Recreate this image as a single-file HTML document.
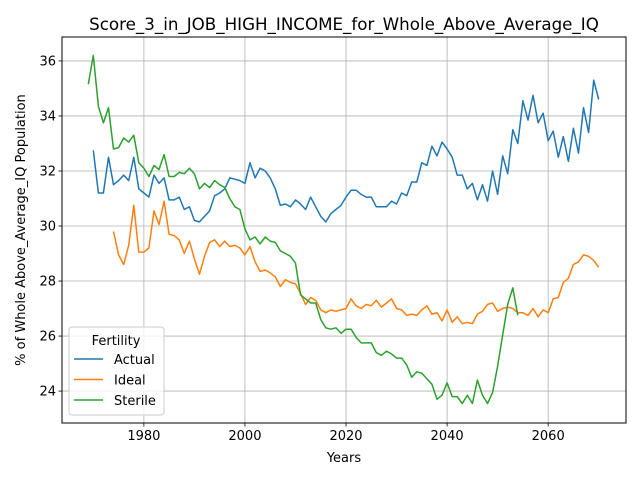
<!DOCTYPE html>
<html><head><meta charset="utf-8"><style>
body{margin:0;background:#fff;font-family:"Liberation Sans","DejaVu Sans",sans-serif}
svg text{font-family:"DejaVu Sans","Liberation Sans",sans-serif}
</style></head><body>
<svg id="chart" width="640" height="480" xmlns="http://www.w3.org/2000/svg">
<rect width="640" height="480" fill="#fff"/>
<g id="grid"></g>
<g id="series"></g>
<rect x="62" y="37" width="564" height="386" fill="none" stroke="#000" stroke-width="1"/>
<g id="ticks"></g>
<text x="344" y="30" font-size="16.7" text-anchor="middle">Score_3_in_JOB_HIGH_INCOME_for_Whole_Above_Average_IQ</text>
<text x="344" y="462" font-size="13" text-anchor="middle">Years</text>
<text transform="translate(25,230) rotate(-90)" font-size="13" text-anchor="middle">% of Whole Above_Average_IQ Population</text>
<g>
<rect x="69" y="327" width="95" height="88" rx="3" fill="#fff" fill-opacity="0.8" stroke="#ccc"/>
<text x="116" y="345" font-size="13" text-anchor="middle">Fertility</text>
<g id="legend-items"></g>
</g>
</svg>
<script>
const actualStart = 1970;
const actual = [32.75,31.2,31.2,32.5,31.5,31.65,31.85,31.65,32.5,31.35,31.2,31.05,31.85,31.55,31.75,30.95,30.95,31.05,30.6,30.7,30.2,30.15,30.35,30.55,31.1,31.2,31.35,31.75,31.7,31.65,31.55,32.3,31.75,32.1,32.0,31.75,31.35,30.75,30.8,30.7,30.95,30.8,30.6,31.05,30.7,30.35,30.15,30.45,30.6,30.75,31.05,31.3,31.3,31.15,31.05,31.05,30.7,30.7,30.7,30.9,30.8,31.2,31.1,31.6,31.6,32.3,32.2,32.9,32.55,33.05,32.8,32.5,31.85,31.85,31.35,31.55,30.95,31.5,30.9,32.0,31.15,32.55,31.9,33.5,33.0,34.55,33.85,34.75,33.75,34.1,33.1,33.45,32.5,33.25,32.35,33.55,32.65,34.3,33.4,35.3,34.6];
const idealStart = 1974;
const ideal = [29.8,28.95,28.6,29.3,30.75,29.05,29.05,29.2,30.55,30.05,30.9,29.7,29.65,29.5,29.0,29.45,28.8,28.25,28.9,29.4,29.5,29.25,29.45,29.25,29.3,29.2,28.95,29.25,28.7,28.35,28.4,28.3,28.15,27.8,28.05,27.95,27.9,27.55,27.15,27.4,27.3,26.95,26.85,26.95,26.9,26.95,27.0,27.35,27.1,27.0,27.15,27.1,27.3,27.05,27.2,27.35,27.0,26.95,26.75,26.8,26.75,26.95,27.1,26.8,26.85,26.55,26.95,26.5,26.7,26.45,26.5,26.45,26.8,26.9,27.15,27.2,26.9,27.0,27.05,27.0,26.85,26.85,26.75,27.0,26.7,26.95,26.85,27.35,27.4,27.95,28.1,28.6,28.7,28.95,28.9,28.75,28.5];
const sterileStart = 1969;
const sterile = [35.15,36.2,34.35,33.75,34.3,32.8,32.85,33.2,33.05,33.3,32.3,32.1,31.8,32.2,32.05,32.6,31.8,31.8,31.95,31.9,32.1,31.9,31.35,31.55,31.4,31.65,31.5,31.4,31.0,30.7,30.6,29.9,29.5,29.6,29.35,29.6,29.45,29.4,29.1,29.0,28.9,28.65,27.5,27.35,27.2,27.2,26.6,26.3,26.25,26.3,26.1,26.25,26.25,25.95,25.75,25.75,25.75,25.4,25.3,25.45,25.35,25.2,25.2,24.95,24.5,24.7,24.65,24.45,24.25,23.7,23.85,24.3,23.8,23.8,23.55,23.85,23.55,24.4,23.85,23.55,23.95,24.9,26.05,27.15,27.75,26.75];
const xTicks = [1980,2000,2020,2040,2060];
const yTicks = [24,26,28,30,32,34,36];
const seriesNames = ["Actual","Ideal","Sterile"];
const colors = ["#1f77b4","#ff7f0e","#2ca02c"];

const NS="http://www.w3.org/2000/svg";
const X0=62,X1=626,Y0=37,Y1=423;
const xMin=1963.8,xMax=2075.4,yMin=22.84,yMax=36.87;
const xs=v=>X0+(v-xMin)/(xMax-xMin)*(X1-X0);
const ys=v=>Y1-(v-yMin)/(yMax-yMin)*(Y1-Y0);
function mk(tag,attrs,parent){const e=document.createElementNS(NS,tag);for(const k in attrs)e.setAttribute(k,attrs[k]);parent.appendChild(e);return e;}
const grid=document.getElementById('grid'),ticks=document.getElementById('ticks'),ser=document.getElementById('series');
xTicks.forEach(t=>{const x=xs(t);
 const g=mk('line',{x1:x,x2:x,y1:Y0,y2:Y1,stroke:'#b0b0b0','stroke-width':0.8},grid);
 
 
 mk('line',{x1:x,x2:x,y1:Y1,y2:Y1+3.5,stroke:'#000','stroke-width':0.8},ticks);
 const tx=mk('text',{x:x,y:Y1+17,'font-size':13,'text-anchor':'middle'},ticks);tx.textContent=t;
 
 
});
yTicks.forEach(t=>{const y=ys(t);
 const g=mk('line',{x1:X0,x2:X1,y1:y,y2:y,stroke:'#b0b0b0','stroke-width':0.8},grid);
 
 
 mk('line',{x1:X0-3.5,x2:X0,y1:y,y2:y,stroke:'#000','stroke-width':0.8},ticks);
 const tx=mk('text',{x:X0-6,y:y+4.5,'font-size':13,'text-anchor':'end'},ticks);tx.textContent=t;
 
 
});
const all=[[actual,actualStart],[ideal,idealStart],[sterile,sterileStart]];
all.forEach(([arr,st],i)=>{
 const pts=arr.map((v,j)=>xs(st+j).toFixed(1)+','+ys(v).toFixed(1)).join(' ');
 const p=mk('polyline',{points:pts,fill:'none',stroke:colors[i],'stroke-width':1.5,'stroke-linejoin':'round'},ser);
 
 
});
const li=document.getElementById('legend-items');
seriesNames.forEach((n,i)=>{const y=359+i*20.5;
 const g=mk('g',{},li);
 
 
 mk('line',{x1:74,x2:103,y1:y,y2:y,stroke:colors[i],'stroke-width':1.5},g);
 const t=mk('text',{x:114,y:y+5,'font-size':13},g);t.textContent=n;
});
</script>
</body></html>
